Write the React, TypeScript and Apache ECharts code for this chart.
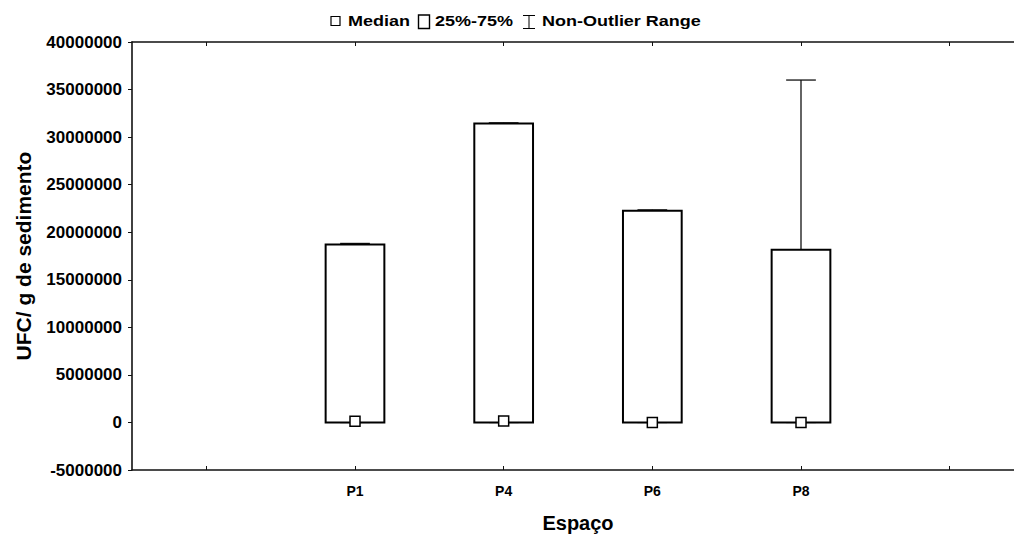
import React, { useEffect, useRef } from "react";
import * as echarts from "echarts";

const categories = ["", "P1", "P4", "P6", "P8", " "];
const boxCategories = ["P1", "P4", "P6", "P8"];
const nonOutlierMin = [0, 0, 0, 0];
const q1Values = [0, 0, 0, 0];
const medianValues = [120000, 150000, 0, 0];
const q3Values = [18720000, 31440000, 22250000, 18150000];
const nonOutlierMax = [18820000, 31500000, 22350000, 36000000];
const yMin = -5000000;
const yMax = 40000000;
const yInterval = 5000000;
const legendLabels = ["Median", "25%-75%", "Non-Outlier Range"];
const xTitle = "Espaço";
const yTitle = "UFC/ g de sedimento";

const FONT = '"Liberation Sans", Arial, Helvetica, sans-serif';

export default function App() {
  const ref = useRef<HTMLDivElement>(null);

  useEffect(() => {
    if (!ref.current) return;
    const chart = echarts.init(ref.current, null, { renderer: "svg" });

    const data = boxCategories.map((c, i) => [
      categories.indexOf(c),
      nonOutlierMin[i],
      q1Values[i],
      medianValues[i],
      q3Values[i],
      nonOutlierMax[i],
    ]);

    const renderItem = (params: any, api: any) => {
      const ci = api.value(0);
      const cx = api.coord([ci, 0])[0];
      const yLo = api.coord([ci, api.value(1)])[1];
      const yQ1 = api.coord([ci, api.value(2)])[1];
      const yMed = api.coord([ci, api.value(3)])[1];
      const yQ3 = api.coord([ci, api.value(4)])[1];
      const yHi = api.coord([ci, api.value(5)])[1];
      const band = api.size([1, 0])[0];
      const bw = band * 0.395;
      const cw = band * 0.2;
      const ms = 10;
      const lineStyle = { stroke: "#111", lineWidth: 1.3, fill: "none" };
      return {
        type: "group",
        children: [
          { type: "line", shape: { x1: cx, y1: yQ3, x2: cx, y2: yHi }, style: lineStyle },
          { type: "line", shape: { x1: cx - cw / 2, y1: yHi, x2: cx + cw / 2, y2: yHi }, style: lineStyle },
          { type: "line", shape: { x1: cx, y1: yQ1, x2: cx, y2: yLo }, style: lineStyle },
          { type: "line", shape: { x1: cx - cw / 2, y1: yLo, x2: cx + cw / 2, y2: yLo }, style: lineStyle },
          {
            type: "rect",
            shape: { x: cx - bw / 2, y: yQ3, width: bw, height: yQ1 - yQ3 },
            style: { fill: "#fff", stroke: "#000", lineWidth: 2 },
          },
          {
            type: "rect",
            shape: { x: cx - ms / 2, y: yMed - ms / 2, width: ms, height: ms },
            style: { fill: "#fff", stroke: "#000", lineWidth: 1.5 },
          },
        ],
      };
    };

    const legendText = (text: string, x: number) => ({
      type: "text",
      x,
      y: 21.5,
      scaleX: 1.2,
      style: {
        text,
        fontSize: 15,
        fontWeight: "bold",
        fontFamily: FONT,
        fill: "#000",
        align: "left",
        verticalAlign: "middle",
      },
    });

    const axisLineStyle = { color: "#111", width: 1.6 };

    chart.setOption({
      animation: false,
      backgroundColor: "#fff",
      grid: { left: 132, top: 42, bottom: 66, right: 0, containLabel: false, outerBoundsMode: "none" },
      xAxis: [
        {
          type: "category",
          data: categories,
          position: "bottom",
          boundaryGap: true,
          axisLine: { show: true, onZero: false, lineStyle: axisLineStyle },
          axisTick: { show: true, inside: true, length: 4, alignWithLabel: true, interval: 0, lineStyle: { color: "#111", width: 1 } },
          axisLabel: { interval: 0, margin: 14, color: "#000", fontSize: 14, fontWeight: "bold", fontFamily: FONT },
          splitLine: { show: false },
          name: xTitle,
          nameLocation: "middle",
          nameGap: 43,
          nameTextStyle: { color: "#000", fontSize: 20, fontWeight: "bold", fontFamily: FONT },
        },
        {
          type: "category",
          data: categories,
          position: "top",
          boundaryGap: true,
          axisLine: { show: true, onZero: false, lineStyle: axisLineStyle },
          axisTick: { show: true, inside: true, length: 4, alignWithLabel: true, interval: 0, lineStyle: { color: "#111", width: 1 } },
          axisLabel: { show: false },
          splitLine: { show: false },
        },
      ],
      yAxis: {
        type: "value",
        min: yMin,
        max: yMax,
        interval: yInterval,
        axisLine: { show: true, onZero: false, lineStyle: axisLineStyle },
        axisTick: { show: true, inside: false, length: 4, lineStyle: { color: "#111", width: 1 } },
        axisLabel: {
          margin: 10,
          color: "#000",
          fontSize: 17,
          fontWeight: "bold",
          fontFamily: FONT,
          formatter: (v: number) => String(v),
        },
        splitLine: { show: false },
        name: yTitle,
        nameLocation: "middle",
        nameRotate: 90,
        nameGap: 98,
        nameTextStyle: { color: "#000", fontSize: 21, fontWeight: "bold", fontFamily: FONT },
      },
      series: [
        {
          type: "custom",
          xAxisIndex: 0,
          yAxisIndex: 0,
          renderItem,
          encode: { x: 0, y: [1, 2, 3, 4, 5] },
          data,
          clip: false,
        },
      ],
      graphic: [
        {
          type: "rect",
          shape: { x: 331, y: 16.5, width: 9, height: 9 },
          style: { fill: "#fff", stroke: "#000", lineWidth: 1.2 },
        },
        legendText(legendLabels[0], 348),
        {
          type: "rect",
          shape: { x: 418.5, y: 15, width: 11, height: 13.5 },
          style: { fill: "#fff", stroke: "#000", lineWidth: 1.4 },
        },
        legendText(legendLabels[1], 435),
        { type: "line", shape: { x1: 523, y1: 15.5, x2: 535, y2: 15.5 }, style: { stroke: "#000", lineWidth: 1 } },
        { type: "line", shape: { x1: 529, y1: 15.5, x2: 529, y2: 28.5 }, style: { stroke: "#000", lineWidth: 1 } },
        { type: "line", shape: { x1: 523, y1: 28.5, x2: 535, y2: 28.5 }, style: { stroke: "#000", lineWidth: 1 } },
        legendText(legendLabels[2], 542),
      ],
    });

    return () => chart.dispose();
  }, []);

  return (
    <div style={{ position: "fixed", left: 0, top: 0, width: 1014, height: 536, overflow: "hidden", background: "#fff" }}>
      <div ref={ref} style={{ position: "absolute", left: 0, top: 0, width: 1024, height: 536 }} />
    </div>
  );
}
